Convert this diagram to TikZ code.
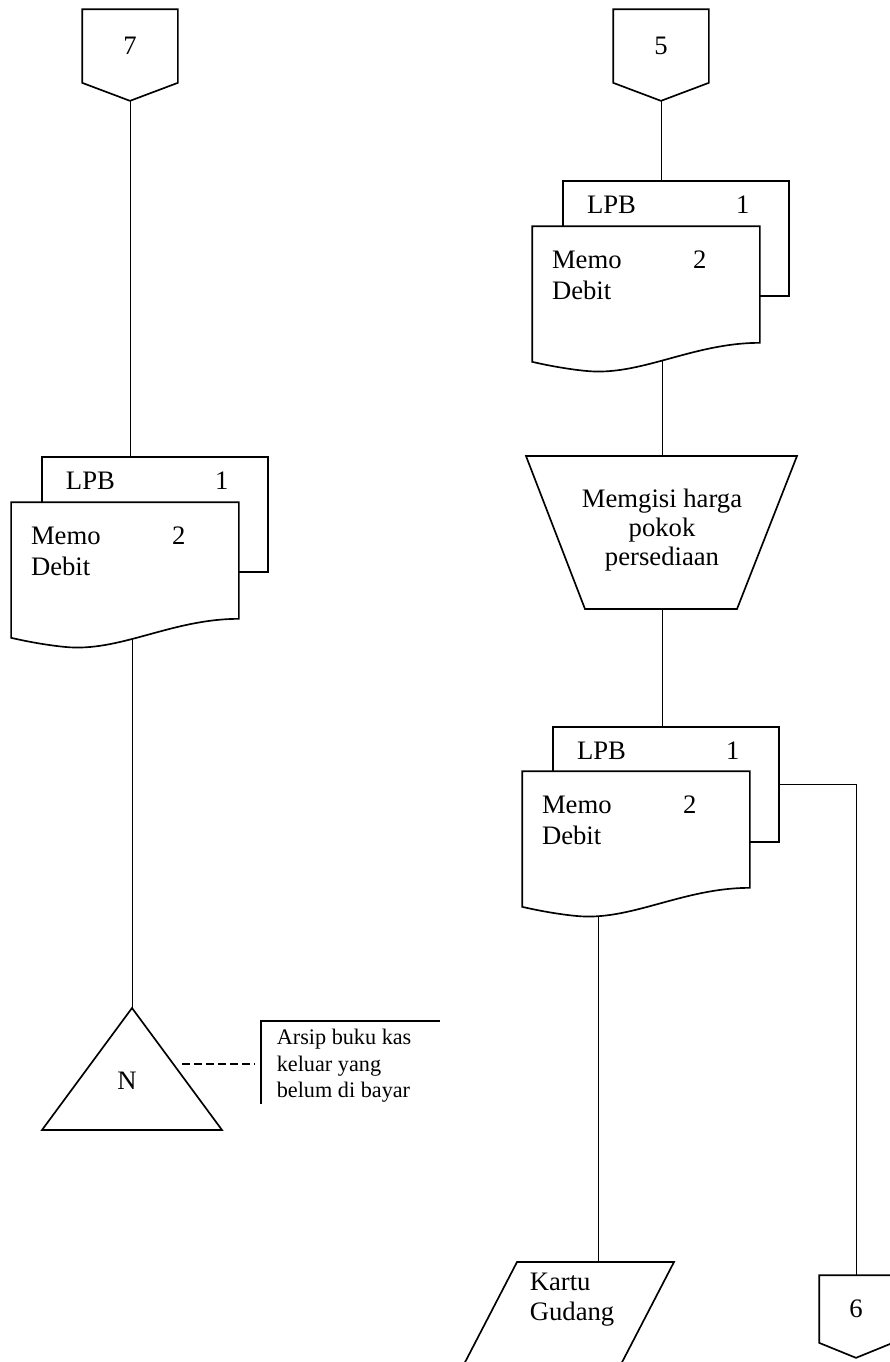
\documentclass[tikz,border=0pt]{standalone}
\usepackage{fontspec}
\setmainfont{Liberation Serif}
\usetikzlibrary{calc,backgrounds}

\begin{document}
\begin{tikzpicture}[x=0.45pt, y=-0.45pt, line width=0.75pt,
    every node/.style={font=\fontsize{12}{14}\selectfont},
    backpage/.style={draw, fill=white, rectangle, minimum width=101.7pt, minimum height=51.75pt, inner sep=0},
    frontpage/.style={rectangle, minimum width=101.7pt, minimum height=51.75pt, inner sep=0},
    page/.style={draw, fill=white},
    doctext/.style={anchor=base west, inner sep=0},
    offpage/.style={rectangle, minimum width=42.3pt, minimum height=32.4pt, inner sep=0},
    offpagesmall/.style={rectangle, minimum width=32.4pt, minimum height=29.7pt, inner sep=0},
    dashline/.style={dash pattern=on 3.6pt off 1.8pt},
    notetext/.style={anchor=west, inner sep=0, align=left, font=\fontsize{10}{11.9}\selectfont}]

    \useasboundingbox (0,0) rectangle (890,1362);

    \node[offpage] (c7) at (130,46) {7};
    \draw (c7.north west) -- (c7.north east) -- (c7.south east) -- ($(c7.south)+(0,18)$) coordinate (c7tip) -- (c7.south west) -- cycle;

    \node[backpage] (lpbA) at (155,514.5) {};
    \node[frontpage] (memoA) at (125,560.5) {};
    \draw[page] (memoA.north west) -- (memoA.north east) -- (memoA.south east)
        .. controls ($(memoA.south east)+(-68,0)$) and ($(memoA.south west)+(108,34)$) .. ($(memoA.south west)+(53,28)$)
        .. controls ($(memoA.south west)+(33,26)$) and ($(memoA.south west)+(13,22)$) .. ($(memoA.south west)+(0,19)$) -- cycle;
    \node[doctext] (lpbAt) at ($(lpbA.north west)+(24,33)$) {LPB};
    \node[doctext] (oneA) at ($(lpbA.north west)+(173,33)$) {1};
    \node[doctext] (memoAt) at ($(memoA.north west)+(19,42)$) {Memo};
    \node[doctext] (debitA) at ($(memoA.north west)+(19,73)$) {Debit};
    \node[doctext] (twoA) at ($(memoA.north west)+(160,42)$) {2};

    \coordinate (triTop) at (132,1008);
    \draw (triTop) -- (222,1130) -- (42,1130) -- cycle;
    \node[anchor=base] (triN) at (127,1089) {N};
    \coordinate (triR) at (182,1064);
    \coordinate (noteL) at (255,1064);
    \draw[dashline] (triR) -- (noteL);
    \draw (440,1021) -- (261,1021) -- (261,1104);
    \node[notetext] (arsip) at (276,1066) {Arsip buku kas\\keluar yang\\belum di bayar};

    \node[offpage] (c5) at (661,46) {5};
    \draw (c5.north west) -- (c5.north east) -- (c5.south east) -- ($(c5.south)+(0,18)$) coordinate (c5tip) -- (c5.south west) -- cycle;

    \node[backpage] (lpbB) at (676,238.5) {};
    \node[frontpage] (memoB) at (646,284.5) {};
    \draw[page] (memoB.north west) -- (memoB.north east) -- (memoB.south east)
        .. controls ($(memoB.south east)+(-68,0)$) and ($(memoB.south west)+(108,34)$) .. ($(memoB.south west)+(53,28)$)
        .. controls ($(memoB.south west)+(33,26)$) and ($(memoB.south west)+(13,22)$) .. ($(memoB.south west)+(0,19)$) -- cycle;
    \node[doctext] (lpbBt) at ($(lpbB.north west)+(24,33)$) {LPB};
    \node[doctext] (oneB) at ($(lpbB.north west)+(173,33)$) {1};
    \node[doctext] (memoBt) at ($(memoB.north west)+(19,42)$) {Memo};
    \node[doctext] (debitB) at ($(memoB.north west)+(19,73)$) {Debit};
    \node[doctext] (twoB) at ($(memoB.north west)+(160,42)$) {2};

    \coordinate (procTop) at (662,456);
    \coordinate (procBot) at (662,609);
    \draw (526,456) -- (797,456) -- (737,609) -- (585,609) -- cycle;
    \node[align=center, font=\fontsize{12}{13}\selectfont] (proc) at (662,530) {Memgisi harga\\pokok\\persediaan};

    \node[backpage] (lpbC) at (666,784.5) {};
    \node[frontpage] (memoC) at (636,829.5) {};
    \draw[page] (memoC.north west) -- (memoC.north east) -- (memoC.south east)
        .. controls ($(memoC.south east)+(-68,0)$) and ($(memoC.south west)+(108,34)$) .. ($(memoC.south west)+(53,28)$)
        .. controls ($(memoC.south west)+(33,26)$) and ($(memoC.south west)+(13,22)$) .. ($(memoC.south west)+(0,19)$) -- cycle;
    \node[doctext] (lpbCt) at ($(lpbC.north west)+(24,33)$) {LPB};
    \node[doctext] (oneC) at ($(lpbC.north west)+(173,33)$) {1};
    \node[doctext] (memoCt) at ($(memoC.north west)+(19,42)$) {Memo};
    \node[doctext] (debitC) at ($(memoC.north west)+(19,73)$) {Debit};
    \node[doctext] (twoC) at ($(memoC.north west)+(160,42)$) {2};

    \coordinate (kartuTop) at (598,1262);
    \draw (517,1262) -- (674,1262) -- (618,1370) -- (461,1370) -- cycle;
    \node[doctext] (kartuA) at (529,1290) {Kartu};
    \node[doctext] (kartuB) at (529,1320) {Gudang};

    \node[offpagesmall] (c6) at (856,1309) {6};
    \draw (c6.north west) -- (c6.north east) -- (c6.south east) -- ($(c6.south)+(0,15)$) coordinate (c6tip) -- (c6.south west) -- cycle;

    \begin{pgfonlayer}{background}
        \draw (c7tip) -- (c7tip |- lpbA.north);
        \draw (memoA.center -| triTop) -- (triTop);
        \draw (c5tip) -- (c5tip |- lpbB.north);
        \draw (memoB.center -| procTop) -- (procTop);
        \draw (procBot) -- (procBot |- lpbC.north);
        \draw (lpbC.east) -| (c6.north);
        \draw (memoC.center -| kartuTop) -- (kartuTop);
    \end{pgfonlayer}
\end{tikzpicture}
\end{document}
